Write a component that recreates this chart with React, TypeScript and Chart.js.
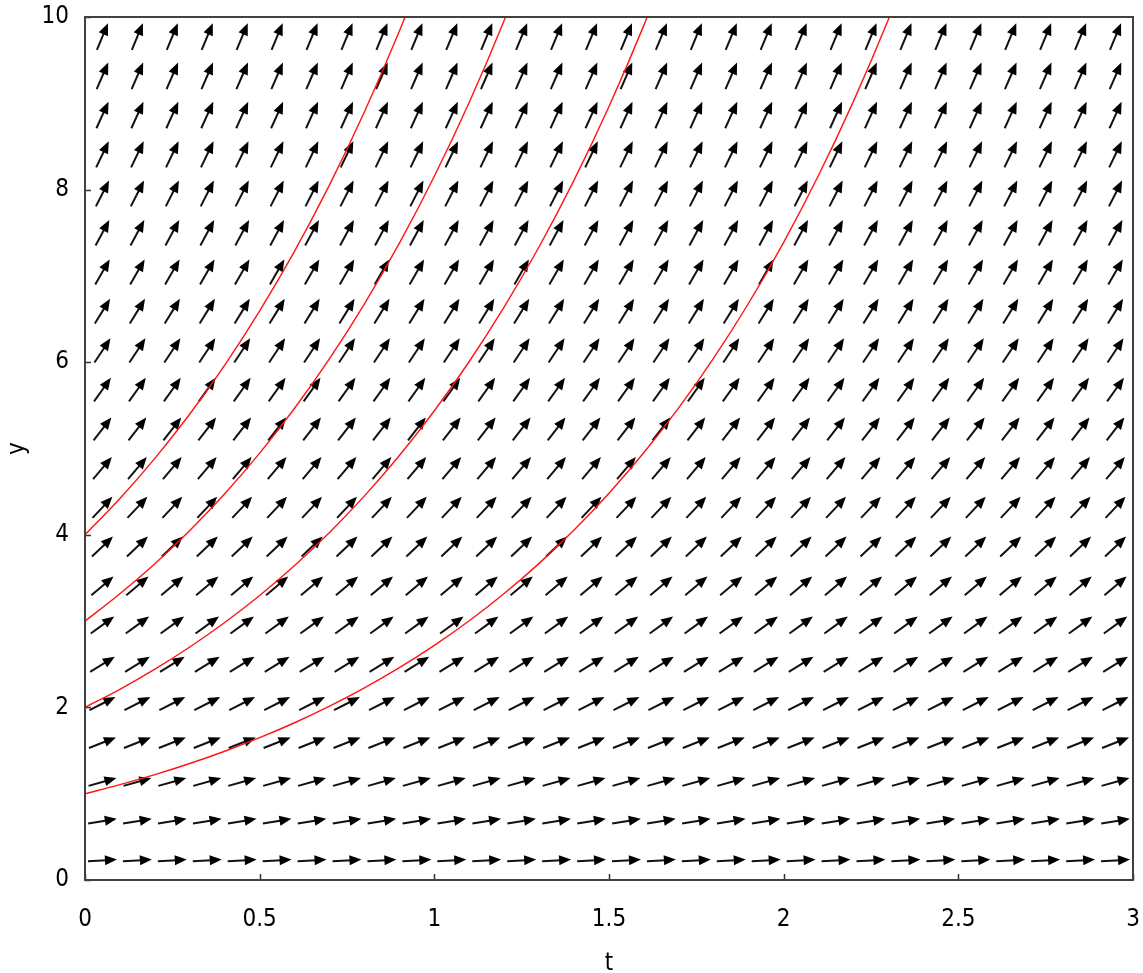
import React, { useEffect, useRef } from "react";
import { Chart, registerables } from "chart.js";

Chart.register(...registerables);

// Axis ticks
const xTickLabels = ["0", "0.5", "1", "1.5", "2", "2.5", "3"];
const yTickLabels = ["0", "2", "4", "6", "8", "10"];

// Slope field grid (arrow centres)
const arrowT = [
  0.05, 0.15, 0.25, 0.35, 0.45, 0.55, 0.65, 0.75, 0.85, 0.95,
  1.05, 1.15, 1.25, 1.35, 1.45, 1.55, 1.65, 1.75, 1.85, 1.95,
  2.05, 2.15, 2.25, 2.35, 2.45, 2.55, 2.65, 2.75, 2.85, 2.95,
];
const arrowY = [
  0.227, 0.682, 1.136, 1.591, 2.045, 2.5, 2.955, 3.409, 3.864, 4.318, 4.773,
  5.227, 5.682, 6.136, 6.591, 7.045, 7.5, 7.955, 8.409, 8.864, 9.318, 9.773,
];
// field: dy/dt = y
const fieldSlope = (_t: number, y: number) => y;

// Solution curves (red)
const curveT = [
  0, 0.1, 0.2, 0.3, 0.4, 0.5, 0.6, 0.7, 0.8, 0.9, 1.0, 1.1, 1.2,
  1.3, 1.4, 1.5, 1.6, 1.7, 1.8, 1.9, 2.0, 2.1, 2.2, 2.3, 2.4,
];
const curveY1 = [
  1, 1.105, 1.221, 1.35, 1.492, 1.649, 1.822, 2.014, 2.226, 2.46, 2.718, 3.004,
  3.32, 3.669, 4.055, 4.482, 4.953, 5.474, 6.05, 6.686, 7.389, 8.166, 9.025,
  9.974, 11.02,
];
const curveY2 = [
  2, 2.21, 2.443, 2.7, 2.984, 3.297, 3.644, 4.027, 4.451, 4.919, 5.437, 6.008,
  6.64, 7.338, 8.11, 8.963, 9.906, 10.95,
];
const curveY3 = [
  3, 3.316, 3.664, 4.05, 4.475, 4.946, 5.466, 6.041, 6.677, 7.379, 8.155, 9.013,
  9.96, 11.01,
];
const curveY4 = [
  4, 4.421, 4.886, 5.4, 5.967, 6.595, 7.288, 8.055, 8.902, 9.838, 10.87,
];
const curves = [curveY1, curveY2, curveY3, curveY4];

const FONT = "'DejaVu Sans Condensed', 'DejaVu Sans', sans-serif";

const slopeFieldPlugin = {
  id: "slopeField",
  beforeDatasetsDraw(chart: any) {
    const { ctx, scales } = chart;
    const xs = scales.x;
    const ys = scales.y;
    const L = 29;
    const headLen = 12;
    const headHalf = 5;
    ctx.save();
    ctx.fillStyle = "#000";
    ctx.strokeStyle = "#111";
    ctx.lineWidth = 2;
    ctx.lineCap = "butt";
    for (const ty of arrowY) {
      for (const tt of arrowT) {
        const s = fieldSlope(tt, ty);
        const cx = xs.getPixelForValue(tt);
        const cy = ys.getPixelForValue(ty);
        const px = xs.getPixelForValue(tt + 1) - cx;
        const py = ys.getPixelForValue(ty + s) - cy;
        const len = Math.hypot(px, py);
        const ux = px / len;
        const uy = py / len;
        const tx0 = cx - (ux * L) / 2;
        const ty0 = cy - (uy * L) / 2;
        const hx = cx + (ux * L) / 2;
        const hy = cy + (uy * L) / 2;
        const bx = hx - ux * headLen;
        const by = hy - uy * headLen;
        ctx.beginPath();
        ctx.moveTo(tx0, ty0);
        ctx.lineTo(bx + ux * 2, by + uy * 2);
        ctx.stroke();
        ctx.beginPath();
        ctx.moveTo(hx, hy);
        ctx.lineTo(bx - uy * headHalf, by + ux * headHalf);
        ctx.lineTo(bx + uy * headHalf, by - ux * headHalf);
        ctx.closePath();
        ctx.fill();
      }
    }
    ctx.restore();
  },
  afterDraw(chart: any) {
    const { ctx, chartArea, scales } = chart;
    const xs = scales.x;
    const ys = scales.y;
    ctx.save();
    ctx.strokeStyle = "#333";
    ctx.lineWidth = 1.5;
    ctx.beginPath();
    for (const t of xs.ticks) {
      const px = Math.round(xs.getPixelForValue(t.value)) + 0.5;
      ctx.moveTo(px, chartArea.bottom);
      ctx.lineTo(px, chartArea.bottom - 6);
    }
    for (const t of ys.ticks) {
      const py = Math.round(ys.getPixelForValue(t.value)) + 0.5;
      ctx.moveTo(chartArea.left, py);
      ctx.lineTo(chartArea.left + 6, py);
    }
    ctx.stroke();
    ctx.strokeStyle = "#404040";
    ctx.lineWidth = 2;
    ctx.strokeRect(
      chartArea.left,
      chartArea.top,
      chartArea.right - chartArea.left,
      chartArea.bottom - chartArea.top
    );
    ctx.restore();
  },
};

const zeroPad = (s: any) => {
  s.paddingTop = 0;
  s.paddingBottom = 0;
  s.paddingLeft = 0;
  s.paddingRight = 0;
};

export default function App() {
  const ref = useRef<HTMLCanvasElement | null>(null);
  useEffect(() => {
    if (!ref.current) return;
    const datasets = curves.map((ys) => ({
      data: ys.map((v, i) => ({ x: curveT[i], y: v })),
      showLine: true,
      borderColor: "rgb(255,20,20)",
      borderWidth: 1.4,
      pointRadius: 0,
      cubicInterpolationMode: "monotone" as const,
      fill: false,
    }));
    const chart = new Chart(ref.current, {
      type: "scatter",
      data: { datasets },
      plugins: [slopeFieldPlugin],
      options: {
        animation: false,
        responsive: false,
        devicePixelRatio: 1,
        layout: { padding: { top: 17, right: 10, left: 0, bottom: 0 } },
        plugins: { legend: { display: false }, tooltip: { enabled: false } },
        scales: {
          x: {
            type: "linear",
            min: 0,
            max: 3,
            grid: { display: false },
            border: { display: false },
            ticks: {
              stepSize: 0.5,
              autoSkip: false,
              maxRotation: 0,
              padding: 17,
              color: "#000",
              font: { family: FONT, size: 24 },
              callback: (_v: any, i: number) => xTickLabels[i],
            },
            title: {
              display: true,
              text: "t",
              color: "#000",
              font: { family: FONT, size: 24, lineHeight: 0.75 },
              padding: { top: 0, bottom: 0 },
            },
            afterFit: (s: any) => {
              s.height = 93;
              zeroPad(s);
            },
          },
          y: {
            type: "linear",
            min: 0,
            max: 10,
            grid: { display: false },
            border: { display: false },
            ticks: {
              stepSize: 2,
              autoSkip: false,
              padding: 8,
              color: "#000",
              font: { family: FONT, size: 24 },
              callback: (_v: any, i: number) => yTickLabels[i],
            },
            title: {
              display: true,
              text: "y",
              color: "#000",
              font: { family: FONT, size: 24, lineHeight: 1.0 },
              padding: { top: 6, bottom: 0 },
            },
            afterFit: (s: any) => {
              s.width = 85;
              zeroPad(s);
            },
          },
        },
      },
    });
    return () => chart.destroy();
  }, []);
  return (
    <div
      style={{
        position: "fixed",
        left: 0,
        top: 0,
        width: 1143,
        height: 973,
        background: "#fff",
      }}
    >
      <canvas ref={ref} width={1143} height={973} />
    </div>
  );
}
